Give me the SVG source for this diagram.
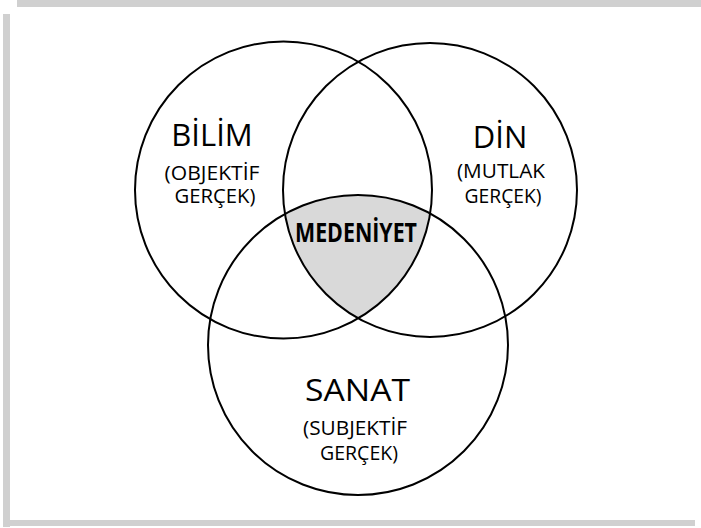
<svg xmlns="http://www.w3.org/2000/svg" width="701" height="528" viewBox="0 0 701 528">
<style>
.bar{fill:#d0d0d0}
.ring{fill:none;stroke:#000;stroke-width:2}
.t{font-family:"Open Sans","Noto Sans",sans-serif;fill:#000;text-anchor:middle}
.big{font-size:31px}
.small{font-size:20.5px}
.bold{font-family:"Open Sans","Noto Sans",sans-serif;font-weight:bold;font-size:26px;text-anchor:middle}
</style>
<defs>
<clipPath id="cl"><circle cx="283.5" cy="190" r="148.5"/></clipPath>
<clipPath id="cr"><circle cx="430" cy="190" r="147"/></clipPath>
</defs>
<rect width="701" height="528" fill="#fff"/>
<g id="frame">
<rect class="bar" x="17" y="0" width="684" height="7"/>
<rect class="bar" x="3" y="14" width="7" height="513"/>
<rect class="bar" x="10" y="520" width="685" height="6"/>
</g>
<g id="medeniyet-area" clip-path="url(#cl)">
<g clip-path="url(#cr)">
<circle cx="358" cy="345" r="150" fill="#d9d9d9"/>
</g>
</g>
<g id="bilim">
<circle class="ring" cx="283.5" cy="190" r="148.5"/>
<text class="t big" x="212" y="146">BİLİM</text>
<text class="t small" x="212" y="180" textLength="95" lengthAdjust="spacingAndGlyphs">(OBJEKTİF</text>
<text class="t small" x="215" y="203" textLength="81" lengthAdjust="spacingAndGlyphs">GERÇEK)</text>
</g>
<g id="din">
<circle class="ring" cx="430" cy="190" r="147"/>
<text class="t big" x="500" y="148">DİN</text>
<text class="t small" x="501" y="178" textLength="88" lengthAdjust="spacingAndGlyphs">(MUTLAK</text>
<text class="t small" x="503" y="203" textLength="77" lengthAdjust="spacingAndGlyphs">GERÇEK)</text>
</g>
<g id="sanat">
<circle class="ring" cx="358" cy="345" r="150"/>
<text class="t big" x="357.5" y="401" textLength="105" lengthAdjust="spacingAndGlyphs">SANAT</text>
<text class="t small" x="355" y="435" textLength="104" lengthAdjust="spacingAndGlyphs">(SUBJEKTİF</text>
<text class="t small" x="359" y="460" textLength="78" lengthAdjust="spacingAndGlyphs">GERÇEK)</text>
</g>
<g id="medeniyet">
<text class="bold" x="356" y="242" textLength="122" lengthAdjust="spacingAndGlyphs">MEDENİYET</text>
</g>
</svg>
